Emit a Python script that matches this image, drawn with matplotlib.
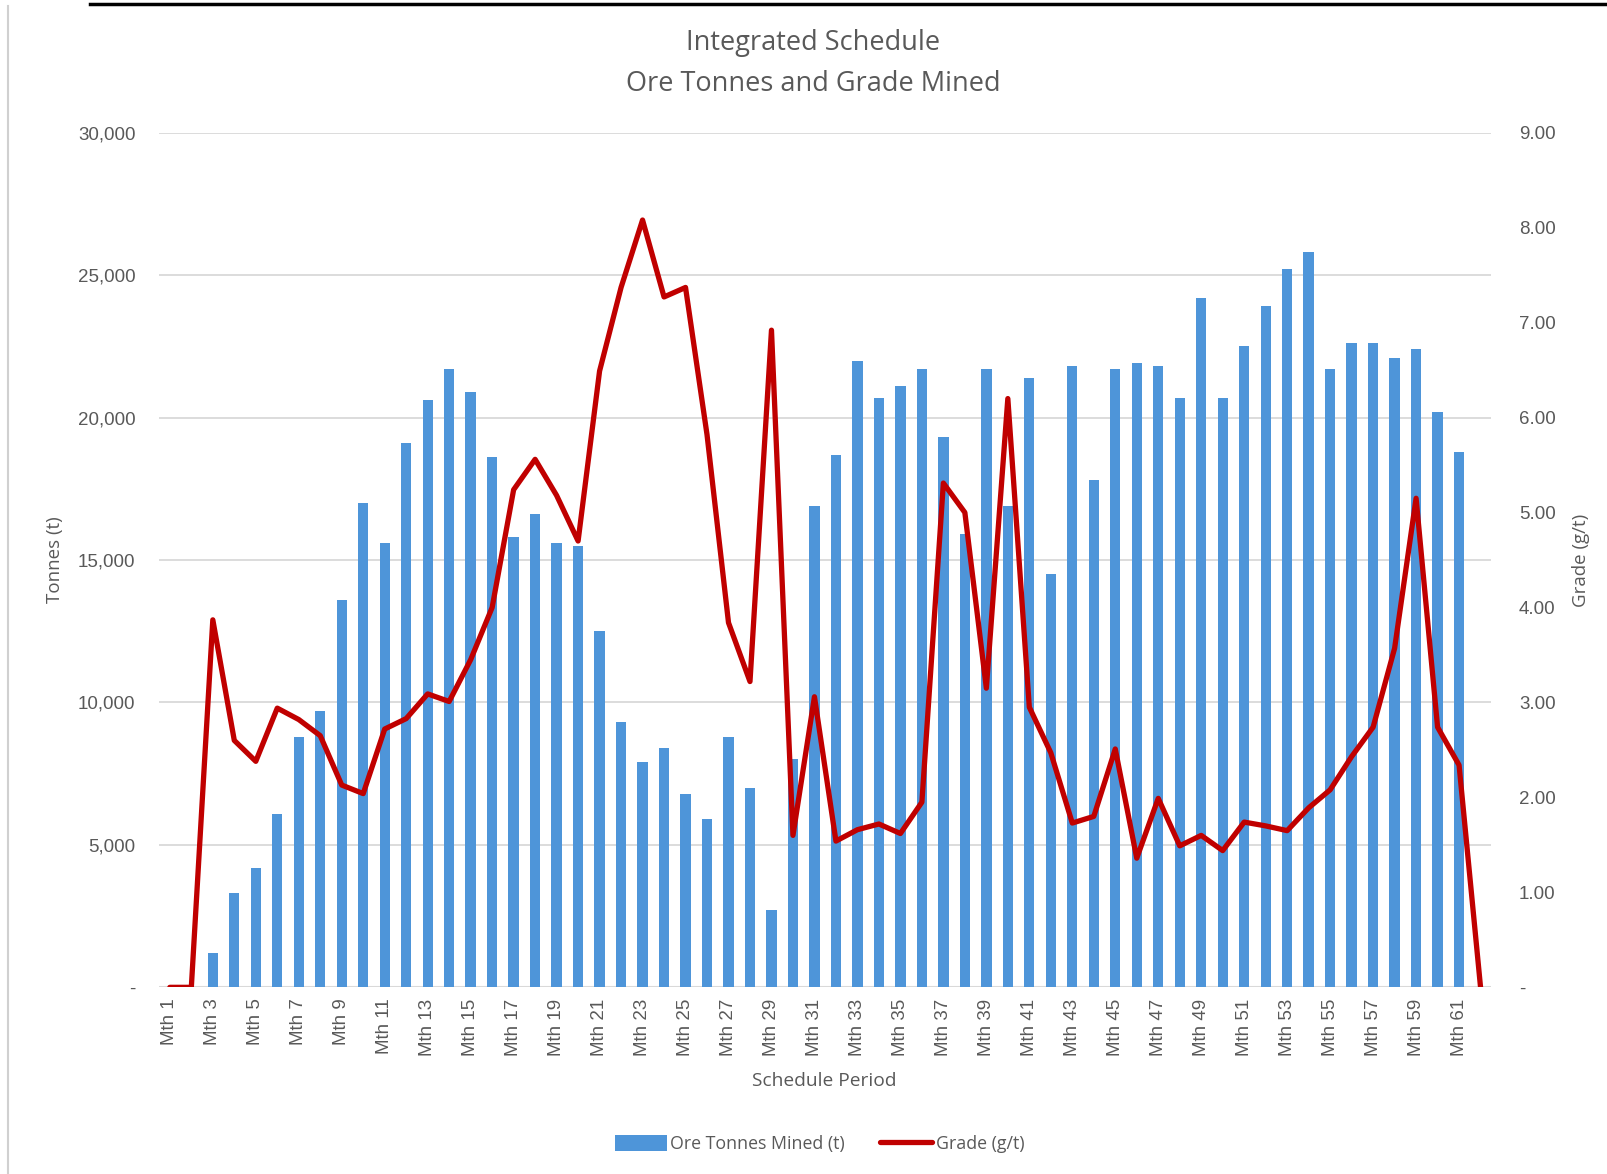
import matplotlib.pyplot as plt
import numpy as np
from matplotlib.lines import Line2D

months = ["Mth %d" % i for i in range(1, 63)]

ore_tonnes = [0, 0, 1200, 3300, 4200, 6100, 8800, 9700, 13600, 17000,
              15600, 19100, 20600, 21700, 20900, 18600, 15800, 16600, 15600, 15500,
              12500, 9300, 7900, 8400, 6800, 5900, 8800, 7000, 2700, 8000,
              16900, 18700, 22000, 20700, 21100, 21700, 19300, 15900, 21700, 16900,
              21400, 14500, 21800, 17800, 21700, 21900, 21800, 20700, 24200, 20700,
              22500, 23900, 25200, 25800, 21700, 22600, 22600, 22100, 22400, 20200,
              18800, 0]

grade = [0, 0, 3.87, 2.60, 2.38, 2.94, 2.82, 2.65, 2.13, 2.04,
         2.72, 2.83, 3.09, 3.01, 3.45, 4.00, 5.24, 5.56, 5.18, 4.70,
         6.49, 7.37, 8.08, 7.27, 7.37, 5.82, 3.84, 3.22, 6.92, 1.60,
         3.06, 1.54, 1.66, 1.72, 1.62, 1.95, 5.31, 5.00, 3.15, 6.20,
         2.95, 2.47, 1.73, 1.80, 2.51, 1.36, 1.99, 1.49, 1.60, 1.44,
         1.74, 1.70, 1.65, 1.89, 2.08, 2.43, 2.74, 3.57, 5.15, 2.74,
         2.34, 0]

grey = '#595959'
tick_font = 'Liberation Sans'
label_font = 'Open Sans'

fig = plt.figure(figsize=(16.07, 11.74), dpi=100)
ax = fig.add_axes([0.099, 0.159, 0.829, 0.728])
ax2 = ax.twinx()

x = np.arange(len(months))
ax.bar(x, ore_tonnes, width=0.48, color='#4E95D9', zorder=2, label='Ore Tonnes Mined (t)')
ax2.plot(x, grade, color='#C00000', linewidth=3.8, solid_joinstyle='round',
         solid_capstyle='round', label='Grade (g/t)')

ax.set_xlim(-0.5, len(months) - 0.5)
ax.set_ylim(0, 30000)
ax2.set_ylim(0, 9)

yt = np.arange(0, 30001, 5000)
ax.set_yticks(yt)
ax.set_yticklabels(['-'] + ['{:,}'.format(v) for v in yt[1:]],
                   fontfamily=tick_font, fontsize=13.5, color=grey)
gt = np.arange(0, 10)
ax2.set_yticks(gt)
ax2.set_yticklabels(['-'] + ['%.2f' % v for v in gt[1:]],
                    fontfamily=tick_font, fontsize=13.5, color=grey)

ax.set_xticks(x[::2])
ax.set_xticklabels(months[::2], rotation=90, fontfamily=tick_font, fontsize=13.5, color=grey)

ax.grid(axis='y', color='#D9D9D9', linewidth=1.3, zorder=0)
ax.set_axisbelow(True)
for a in (ax, ax2):
    for s in ['top', 'left', 'right', 'bottom']:
        a.spines[s].set_visible(False)
    a.tick_params(length=0)
ax.axhline(0, color='#D9D9D9', linewidth=1.5, zorder=1)
ax.tick_params(axis='y', pad=17)
ax2.tick_params(axis='y', pad=20)
ax.tick_params(axis='x', pad=8)

ax.set_ylabel('Tonnes (t)', fontfamily=label_font, fontsize=13.5, color=grey, labelpad=10)
ax2.set_ylabel('Grade (g/t)', fontfamily=label_font, fontsize=13.5, color=grey,
               rotation=90, labelpad=12)

fig.text(0.513, 1 - 1081 / 1174, 'Schedule Period', ha='center', va='center',
         fontfamily=label_font, fontsize=13.8, color=grey)
fig.text(0.506, 1 - 43 / 1174, 'Integrated Schedule', ha='center', va='center',
         fontfamily=label_font, fontsize=19.5, color=grey)
fig.text(0.506, 1 - 84 / 1174, 'Ore Tonnes and Grade Mined', ha='center', va='center',
         fontfamily=label_font, fontsize=19.5, color=grey)

h1, l1 = ax.get_legend_handles_labels()
h2, l2 = ax2.get_legend_handles_labels()
leg = fig.legend(h1 + h2, l1 + l2, loc='center', bbox_to_anchor=(0.51, 1 - 1144 / 1174),
                 ncol=2, frameon=False, prop={'family': label_font, 'size': 12.8},
                 handlelength=2.9, handleheight=1.0, handletextpad=0.2, columnspacing=2.0)
for t in leg.get_texts():
    t.set_color(grey)

# screenshot border bits
fig.add_artist(Line2D([0.056, 1.0], [0.997, 0.997], color='black', linewidth=2.5))
fig.add_artist(Line2D([0.005, 0.005], [0.0, 0.995], color='#D0D0D0', linewidth=1.5))

fig.savefig('out.png', dpi=100)
